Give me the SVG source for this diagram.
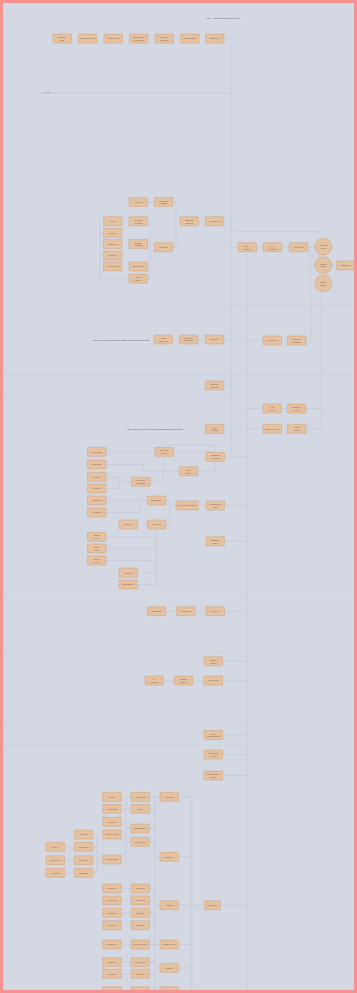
<svg xmlns="http://www.w3.org/2000/svg" width="357" height="993" viewBox="0 0 357 993">
<style>
.bg{fill:#d3d8e3}
.frame{fill:none;stroke:#f49191;stroke-width:3}
.b{fill:#e3c1a1;stroke:#d3a27a;stroke-width:0.5}
.t{font-family:"Liberation Sans",Arial,sans-serif;font-size:2.2px;fill:#7a5a44;text-anchor:middle}
.lbl{font-family:"Liberation Sans",Arial,sans-serif;font-size:2.5px;fill:#4f5466}
.c{fill:none;stroke:#bcc3d1;stroke-width:0.5}
.f{fill:none;stroke:#c8cedb;stroke-width:0.4}
</style>
<defs>
<rect id="bx" class="b" width="18.5" height="9" rx="0.4"/>
</defs>
<rect class="bg" x="0" y="0" width="357" height="993"/>
<text class="lbl" x="206" y="19" font-size="2.7">Title · Long-term plan overview</text>
<text class="lbl" x="45" y="93" font-size="1.8" fill="#8d93a3">note</text>
<text class="lbl" x="93" y="340.5">The plan overview of the strategic and the forecast</text>
<text class="lbl" x="127" y="429.5">The plan overview of the forecast and the decision</text>
<g id="connectors">
<path class="c" d="M231,43V455M223.8,38.5H231M35,93H231"/>
<path class="c" d="M223.7,221.2H231M198.5,221.2H205.3M172.8,202H176V247.2H172.8M176,221.2H180M147.5,202H154.3M147.5,221.2H150V278.5M147.5,244H154.3M147.5,266.5H150M147.5,278.5H150M122,221.2H129M100,221.2V278.5H150M100,232.8H103.5M100,244H103.5M100,255.5H103.5M100,266.5H103.5"/>
<path class="c" d="M231,247.2H238M256.5,247.2H263M281.5,247.2H289.3M307.8,247.2H314.8M310,247.2V283.3H314.8M310,265.5H314.8M331.8,265.5H336.5M233,231.7H320"/>
<path class="c" d="M247,252V990"/>
<path class="c" d="M247,340.5H263M281.5,340.5H287.5M306,340.5H311V292M247,408.5H263M281.5,408.5H287.5M247,428.8H263M281.5,428.8H287.5M306,408.5H321.7M306,428.8H321.7V291.8"/>
<path class="c" d="M172.5,339.5H179.5M198,339.5H205.3M223.8,339.5H231M223.8,385.5H231M223.8,429H231"/>
<path class="f" d="M230,305H357M0,375H357M0,398H230"/>
<path class="c" d="M106,451.8H155M106,464.5H143V471.2H179.3M173.5,451.8H215V452.3M163,445H215V452.3M224.5,456.8H247M198,471.2H215V461.7M106,476.8H119V488.5H106M119,482H131.7M150.2,482H163V457M106,500.5H147.3M106,512.5H140V500.5M165.8,500.5H170V524.5H165.8M170,505.5H176M198.3,505.5H206M224.5,505.5H247M137.5,524.5H147.3"/>
<path class="c" d="M106,536.8H156.7M106,548.5H156.7M106,560.5H156.7M137.5,572.8H156.7M137.5,584.5H156.7M156.7,525V584.5M224.5,541.2H247M165.8,611.2H176.7M195.2,611.2H206M224.5,611.2H247"/>
<path class="f" d="M0,594.3H357M0,653H222M0,725H247M0,745H247"/>
<path class="c" d="M222.5,661.2H247M163.5,680.8H174.3M192.8,680.8H204M222.5,680.8H247M222.5,735H247M222.5,754.5H247M222.5,775.5H247"/>
<path class="c" d="M65,846.8H74.3M65,860H74.3M65,872.8H74.3M92.8,834.5H97V872.8H92.8M92.8,846.8H97M92.8,860H97M97,859.5H102.7M121.5,796.8H131M121.5,808.8H131M126,796.8V864M121.5,821.8H126M121.5,834.5H126M121.5,859.5H126M126,828.5H131M126,841.8H131M150,796.8H160M150,808.8H155M150,828.5H155M150,841.8H155M155,796.8V990M155,856.8H160M178.7,796.8H191.7M191.7,796.8V990M178.7,856.8H191.7M121.5,888.5H131M121.5,900.5H131M121.5,912.8H131M121.5,925.2H131M150,888.5H155M150,900.5H155M150,912.8H155M150,925.2H155M155,905.2H160M178.7,905.2H204.3M220,905.2H247M121.5,944.5H131M150,944.5H160M178.7,944.5H191.7M121.5,962.2H131M121.5,973.8H131M150,962.2H155M150,973.8H155M155,967.8H160M178.7,967.8H191.7M121.5,990H131M150,990H160"/>
</g>
<g id="n1"><use href="#bx" x="53" y="34"/><text class="t" x="62.2" y="38">Strategy</text><text class="t" x="62.2" y="40.8">goal</text></g>
<g id="n2"><use href="#bx" x="78.5" y="34"/><text class="t" x="87.7" y="39.2">Planning scope</text></g>
<g id="n3"><use href="#bx" x="104" y="34"/><text class="t" x="113.2" y="39.2">Resources</text></g>
<g id="n4"><use href="#bx" x="129.5" y="34"/><text class="t" x="138.7" y="38">Market and</text><text class="t" x="138.7" y="40.8">competition</text></g>
<g id="n5"><use href="#bx" x="155" y="34"/><text class="t" x="164.2" y="38">Product</text><text class="t" x="164.2" y="40.8">roadmap</text></g>
<g id="n6"><use href="#bx" x="180.5" y="34"/><text class="t" x="189.7" y="39.2">Organisation</text></g>
<g id="n7"><use href="#bx" x="205.5" y="34"/><text class="t" x="214.7" y="39.2">Overview</text></g>
<g id="n8"><use href="#bx" x="129" y="197.5"/><text class="t" x="138.2" y="202.7">Analysis</text></g>
<g id="n9"><use href="#bx" x="154.3" y="197.5"/><text class="t" x="163.5" y="201.5">Data and</text><text class="t" x="163.5" y="204.3">insight</text></g>
<g id="n10"><use href="#bx" x="103.5" y="216.7"/><text class="t" x="112.7" y="221.9">Input</text></g>
<g id="n11"><use href="#bx" x="129" y="216.7"/><text class="t" x="138.2" y="220.7">Review</text><text class="t" x="138.2" y="223.5">process</text></g>
<g id="n12"><use href="#bx" x="180" y="216.7"/><text class="t" x="189.2" y="220.7">Strategic</text><text class="t" x="189.2" y="223.5">analysis</text></g>
<g id="n13"><use href="#bx" x="205.3" y="216.7"/><text class="t" x="214.5" y="221.9">Assessment</text></g>
<g id="n14"><use href="#bx" x="103.5" y="228.3"/><text class="t" x="112.7" y="233.5">Trends</text></g>
<g id="n15"><use href="#bx" x="103.5" y="239.5"/><text class="t" x="112.7" y="244.7">Customers</text></g>
<g id="n16"><use href="#bx" x="129" y="239.5"/><text class="t" x="138.2" y="243.5">Market</text><text class="t" x="138.2" y="246.3">analysis</text></g>
<g id="n17"><use href="#bx" x="154.3" y="242.7"/><text class="t" x="163.5" y="247.9">Findings</text></g>
<g id="n18"><use href="#bx" x="103.5" y="251"/><text class="t" x="112.7" y="256.2">Partners</text></g>
<g id="n19"><use href="#bx" x="103.5" y="262"/><text class="t" x="112.7" y="267.2">Competitors</text></g>
<g id="n20"><use href="#bx" x="129" y="262"/><text class="t" x="138.2" y="267.2">Benchmark</text></g>
<g id="n21"><use href="#bx" x="129" y="274"/><text class="t" x="138.2" y="278">Risk</text><text class="t" x="138.2" y="280.8">factors</text></g>
<g id="n22"><use href="#bx" x="238" y="242.7"/><text class="t" x="247.2" y="246.7">Core</text><text class="t" x="247.2" y="249.5">strategy</text></g>
<g id="n23"><use href="#bx" x="263" y="242.7"/><text class="t" x="272.2" y="246.7">Key</text><text class="t" x="272.2" y="249.5">objectives</text></g>
<g id="n24"><use href="#bx" x="289.3" y="242.7"/><text class="t" x="298.5" y="247.9">Priorities</text></g>
<g id="n25"><circle class="b" cx="323.3" cy="246.7" r="8.5"/><text class="t" x="323.3" y="245.9">Growth</text><text class="t" x="323.3" y="248.7">target</text></g>
<g id="n26"><circle class="b" cx="323.3" cy="265.3" r="8.5"/><text class="t" x="323.3" y="264.5">Margin</text><text class="t" x="323.3" y="267.3">target</text></g>
<g id="n27"><circle class="b" cx="323.3" cy="283.5" r="8.5"/><text class="t" x="323.3" y="282.7">Market</text><text class="t" x="323.3" y="285.5">share</text></g>
<g id="n28"><rect class="b" x="336.5" y="261" width="17.5" height="9" rx="0.4"/><text class="t" x="345.2" y="266.2">Outcome</text></g>
<g id="n29"><use href="#bx" x="263" y="336"/><text class="t" x="272.2" y="341.2">Milestones</text></g>
<g id="n30"><use href="#bx" x="287.5" y="336"/><text class="t" x="296.7" y="340">Progress</text><text class="t" x="296.7" y="342.8">tracking</text></g>
<g id="n31"><use href="#bx" x="263" y="404"/><text class="t" x="272.2" y="408">KPI</text><text class="t" x="272.2" y="410.8">review</text></g>
<g id="n32"><use href="#bx" x="287.5" y="404"/><text class="t" x="296.7" y="408">Quarterly</text><text class="t" x="296.7" y="410.8">report</text></g>
<g id="n33"><use href="#bx" x="263" y="424.3"/><text class="t" x="272.2" y="429.5">Budget check</text></g>
<g id="n34"><use href="#bx" x="287.5" y="424.3"/><text class="t" x="296.7" y="428.3">Annual</text><text class="t" x="296.7" y="431.1">report</text></g>
<g id="n35"><use href="#bx" x="154" y="335"/><text class="t" x="163.2" y="339">Vision</text><text class="t" x="163.2" y="341.8">statement</text></g>
<g id="n36"><use href="#bx" x="179.5" y="335"/><text class="t" x="188.7" y="338.6">Mission</text><text class="t" x="188.7" y="341.2">and values</text></g>
<g id="n37"><use href="#bx" x="205.3" y="335"/><text class="t" x="214.5" y="340.2">Direction</text></g>
<g id="n38"><use href="#bx" x="205.3" y="381"/><text class="t" x="214.5" y="385">Strategic</text><text class="t" x="214.5" y="387.8">themes</text></g>
<g id="n39"><use href="#bx" x="205.3" y="424.5"/><text class="t" x="214.5" y="428.5">Plan</text><text class="t" x="214.5" y="431.3">forecast</text></g>
<g id="n40"><use href="#bx" x="87.5" y="447.3"/><text class="t" x="96.7" y="452.5">Sales data</text></g>
<g id="n41"><use href="#bx" x="87.5" y="460"/><text class="t" x="96.7" y="465.2">Cost data</text></g>
<g id="n42"><use href="#bx" x="87.5" y="472.3"/><text class="t" x="96.7" y="477.5">Pricing</text></g>
<g id="n43"><use href="#bx" x="87.5" y="484"/><text class="t" x="96.7" y="489.2">Volume</text></g>
<g id="n44"><use href="#bx" x="87.5" y="496"/><text class="t" x="96.7" y="501.2">Channels</text></g>
<g id="n45"><use href="#bx" x="87.5" y="508"/><text class="t" x="96.7" y="513.2">Regions</text></g>
<g id="n46"><use href="#bx" x="155" y="447.3"/><text class="t" x="164.2" y="451.3">Revenue</text><text class="t" x="164.2" y="454.1">model</text></g>
<g id="n47"><use href="#bx" x="206" y="452.3"/><text class="t" x="215.2" y="456.3">Financial</text><text class="t" x="215.2" y="459.1">forecast</text></g>
<g id="n48"><use href="#bx" x="179.3" y="466.7"/><text class="t" x="188.5" y="470.7">Cost</text><text class="t" x="188.5" y="473.5">model</text></g>
<g id="n49"><use href="#bx" x="131.7" y="477.3"/><text class="t" x="140.9" y="481.3">Demand</text><text class="t" x="140.9" y="484.1">estimate</text></g>
<g id="n50"><use href="#bx" x="147.3" y="496"/><text class="t" x="156.5" y="501.2">Distribution</text></g>
<g id="n51"><rect class="b" x="176" y="501" width="22.3" height="9" rx="0.4"/><text class="t" x="187.1" y="506.2">Go-to-market plan</text></g>
<g id="n52"><use href="#bx" x="206" y="501"/><text class="t" x="215.2" y="505">Commercial</text><text class="t" x="215.2" y="507.8">plan</text></g>
<g id="n53"><use href="#bx" x="119" y="520"/><text class="t" x="128.2" y="525.2">Partners</text></g>
<g id="n54"><use href="#bx" x="147.3" y="520"/><text class="t" x="156.5" y="525.2">Alliances</text></g>
<g id="n55"><use href="#bx" x="87.5" y="532.3"/><text class="t" x="96.7" y="536.3">Staff</text><text class="t" x="96.7" y="539.1">plan</text></g>
<g id="n56"><use href="#bx" x="87.5" y="544"/><text class="t" x="96.7" y="548">Skills</text><text class="t" x="96.7" y="550.8">plan</text></g>
<g id="n57"><use href="#bx" x="87.5" y="556"/><text class="t" x="96.7" y="560">Tools</text><text class="t" x="96.7" y="562.8">plan</text></g>
<g id="n58"><use href="#bx" x="119" y="568.3"/><text class="t" x="128.2" y="573.5">Training</text></g>
<g id="n59"><use href="#bx" x="119" y="580"/><text class="t" x="128.2" y="585.2">Recruitment</text></g>
<g id="n60"><use href="#bx" x="206" y="536.7"/><text class="t" x="215.2" y="540.7">Capability</text><text class="t" x="215.2" y="543.5">plan</text></g>
<g id="n61"><use href="#bx" x="147.3" y="606.7"/><text class="t" x="156.5" y="611.9">Operations</text></g>
<g id="n62"><use href="#bx" x="176.7" y="606.7"/><text class="t" x="185.9" y="611.9">Processes</text></g>
<g id="n63"><use href="#bx" x="206" y="606.7"/><text class="t" x="215.2" y="611.9">Delivery</text></g>
<g id="n64"><use href="#bx" x="204" y="656.7"/><text class="t" x="213.2" y="660.7">Quality</text><text class="t" x="213.2" y="663.5">control</text></g>
<g id="n65"><use href="#bx" x="145" y="676"/><text class="t" x="154.2" y="680">IT</text><text class="t" x="154.2" y="682.8">systems</text></g>
<g id="n66"><use href="#bx" x="174.3" y="676"/><text class="t" x="183.5" y="680">Digital</text><text class="t" x="183.5" y="682.8">platform</text></g>
<g id="n67"><use href="#bx" x="204" y="676"/><text class="t" x="213.2" y="681.2">Technology</text></g>
<g id="n68"><use href="#bx" x="204" y="730.5"/><text class="t" x="213.2" y="734.5">Risk</text><text class="t" x="213.2" y="737.3">management</text></g>
<g id="n69"><use href="#bx" x="204" y="750"/><text class="t" x="213.2" y="754">Compliance</text><text class="t" x="213.2" y="756.8">review</text></g>
<g id="n70"><use href="#bx" x="204" y="771"/><text class="t" x="213.2" y="775">Governance</text><text class="t" x="213.2" y="777.8">board</text></g>
<g id="n71"><use href="#bx" x="46" y="842.3"/><text class="t" x="55.2" y="847.5">Survey</text></g>
<g id="n72"><use href="#bx" x="46" y="855.7"/><text class="t" x="55.2" y="860.9">Interviews</text></g>
<g id="n73"><use href="#bx" x="46" y="868.3"/><text class="t" x="55.2" y="873.5">Reports</text></g>
<g id="n74"><use href="#bx" x="74.3" y="830"/><text class="t" x="83.5" y="835.2">Sources</text></g>
<g id="n75"><use href="#bx" x="74.3" y="842.3"/><text class="t" x="83.5" y="847.5">Feedback</text></g>
<g id="n76"><use href="#bx" x="74.3" y="855.7"/><text class="t" x="83.5" y="860.9">Research</text></g>
<g id="n77"><use href="#bx" x="74.3" y="868.3"/><text class="t" x="83.5" y="873.5">Statistics</text></g>
<g id="n78"><use href="#bx" x="102.7" y="792.3"/><text class="t" x="111.9" y="797.5">Brand</text></g>
<g id="n79"><use href="#bx" x="102.7" y="804.3"/><text class="t" x="111.9" y="809.5">Campaigns</text></g>
<g id="n80"><use href="#bx" x="102.7" y="817.3"/><text class="t" x="111.9" y="822.5">Content</text></g>
<g id="n81"><use href="#bx" x="102.7" y="830"/><text class="t" x="111.9" y="835.2">Social media</text></g>
<g id="n82"><use href="#bx" x="102.7" y="855"/><text class="t" x="111.9" y="860.2">Insight base</text></g>
<g id="n83"><use href="#bx" x="131" y="792.3"/><text class="t" x="140.2" y="797.5">Awareness</text></g>
<g id="n84"><use href="#bx" x="131" y="804.3"/><text class="t" x="140.2" y="809.5">Leads</text></g>
<g id="n85"><use href="#bx" x="131" y="824"/><text class="t" x="140.2" y="829.2">Engagement</text></g>
<g id="n86"><use href="#bx" x="131" y="837.3"/><text class="t" x="140.2" y="842.5">Conversion</text></g>
<g id="n87"><use href="#bx" x="160" y="792.3"/><text class="t" x="169.2" y="797.5">Marketing</text></g>
<g id="n88"><use href="#bx" x="160" y="852.3"/><text class="t" x="169.2" y="857.5">Customer</text></g>
<g id="n89"><use href="#bx" x="102.7" y="884"/><text class="t" x="111.9" y="889.2">Product A</text></g>
<g id="n90"><use href="#bx" x="102.7" y="896"/><text class="t" x="111.9" y="901.2">Product B</text></g>
<g id="n91"><use href="#bx" x="102.7" y="908.3"/><text class="t" x="111.9" y="913.5">Product C</text></g>
<g id="n92"><use href="#bx" x="102.7" y="920.7"/><text class="t" x="111.9" y="925.9">Product D</text></g>
<g id="n93"><use href="#bx" x="131" y="884"/><text class="t" x="140.2" y="889.2">Features</text></g>
<g id="n94"><use href="#bx" x="131" y="896"/><text class="t" x="140.2" y="901.2">Releases</text></g>
<g id="n95"><use href="#bx" x="131" y="908.3"/><text class="t" x="140.2" y="913.5">Testing</text></g>
<g id="n96"><use href="#bx" x="131" y="920.7"/><text class="t" x="140.2" y="925.9">Support</text></g>
<g id="n97"><use href="#bx" x="160" y="900.7"/><text class="t" x="169.2" y="905.9">Portfolio</text></g>
<g id="n98"><rect class="b" x="204.3" y="900.7" width="16" height="9" rx="0.4"/><text class="t" x="212.3" y="905.9">Execution</text></g>
<g id="n99"><use href="#bx" x="102.7" y="940"/><text class="t" x="111.9" y="945.2">Suppliers</text></g>
<g id="n100"><use href="#bx" x="131" y="940"/><text class="t" x="140.2" y="945.2">Procurement</text></g>
<g id="n101"><use href="#bx" x="160" y="940"/><text class="t" x="169.2" y="945.2">Supply chain</text></g>
<g id="n102"><use href="#bx" x="102.7" y="957.7"/><text class="t" x="111.9" y="962.9">Budget</text></g>
<g id="n103"><use href="#bx" x="102.7" y="969.3"/><text class="t" x="111.9" y="974.5">Funding</text></g>
<g id="n104"><use href="#bx" x="131" y="957.7"/><text class="t" x="140.2" y="962.9">Investment</text></g>
<g id="n105"><use href="#bx" x="131" y="969.3"/><text class="t" x="140.2" y="974.5">Returns</text></g>
<g id="n106"><use href="#bx" x="160" y="963.3"/><text class="t" x="169.2" y="968.5">Finance</text></g>
<g id="n107"><use href="#bx" x="102.7" y="986.7"/></g>
<g id="n108"><use href="#bx" x="131" y="986.7"/></g>
<g id="n109"><use href="#bx" x="160" y="986.7"/></g>
<rect class="frame" x="1.5" y="1.5" width="354" height="990"/>
</svg>
